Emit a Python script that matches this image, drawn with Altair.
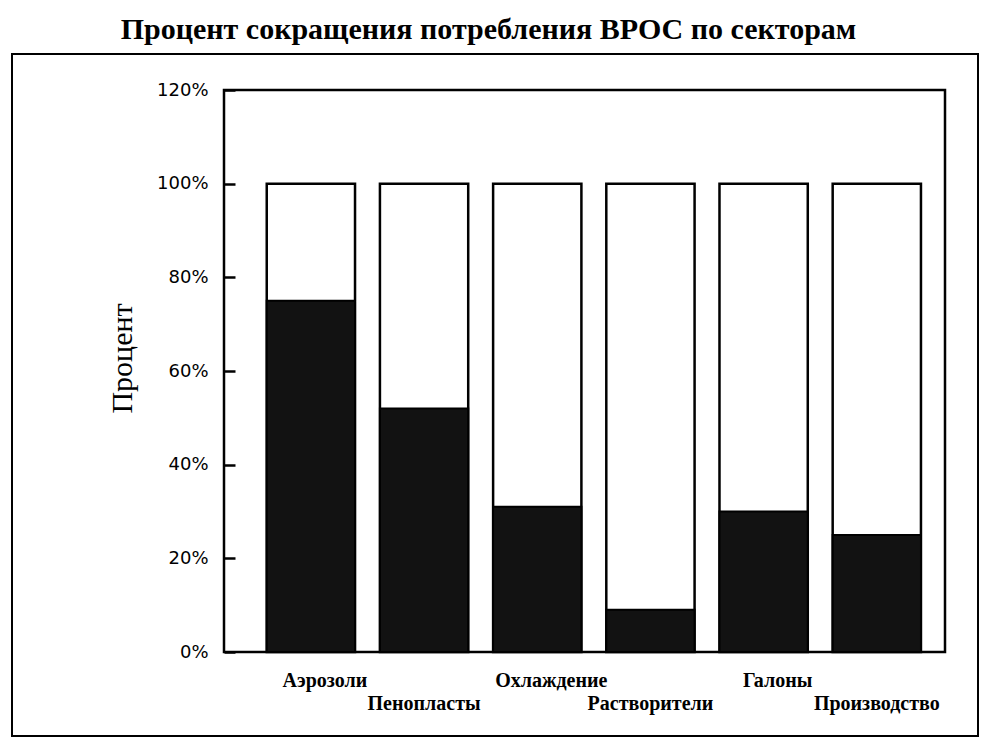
import altair as alt
import pandas as pd

categories = ["Аэрозоли", "Пенопласты", "Охлаждение", "Растворители", "Галоны", "Производство"]
reduction = [75, 52, 31, 9, 30, 25]
totals = [100, 100, 100, 100, 100, 100]
label_rows = [0, 1, 0, 1, 0, 1]
y_ticks = [0, 20, 40, 60, 80, 100, 120]

df = pd.DataFrame({"cat": categories, "reduction": reduction, "total": totals, "row": label_rows})

xscale = alt.Scale(domain=categories, paddingInner=0.22, paddingOuter=0.295, align=0.64)
yscale = alt.Scale(domain=[0, 120], nice=False)
# axis pulled 11px inside the frame so that its outward ticks point into the plot
yaxis = alt.Axis(values=y_ticks, labelExpr="datum.value + '%'", ticks=True, tickSize=11,
                 tickWidth=2.5, tickColor="black", domain=False, offset=-11,
                 grid=False, labelPadding=16, labelFont="DejaVu Sans", labelFontSize=18,
                 labelColor="black", titleFont="Liberation Serif", titleFontSize=30,
                 titleFontWeight="normal", titleColor="black", titleX=-113, titleY=268,
                 titleAngle=270, titleAlign="center", titleBaseline="middle")
xaxis = None

base = alt.Chart(df)

white = base.mark_bar(fill="white", stroke="black", strokeWidth=2.5).encode(
    x=alt.X("cat:N", sort=categories, scale=xscale, axis=xaxis),
    y=alt.Y("total:Q", scale=yscale, title="Процент", axis=yaxis),
)

black = base.mark_bar(fill="#121212", stroke="black", strokeWidth=2).encode(
    x=alt.X("cat:N", sort=categories, scale=xscale, axis=xaxis),
    y=alt.Y("reduction:Q", scale=yscale, title="Процент", axis=yaxis),
)

labels0 = base.transform_filter("datum.row == 0").mark_text(
    font="Liberation Serif", fontWeight="bold", fontSize=20, color="black", dx=14, baseline="middle"
).encode(
    x=alt.X("cat:N", sort=categories, scale=xscale, axis=xaxis),
    y=alt.value(591),
    text="cat:N",
)

labels1 = base.transform_filter("datum.row == 1").mark_text(
    font="Liberation Serif", fontWeight="bold", fontSize=20, color="black", dx=0, baseline="middle"
).encode(
    x=alt.X("cat:N", sort=categories, scale=xscale, axis=xaxis),
    y=alt.value(614),
    text="cat:N",
)

frame = alt.Chart(alt.Data(values=[{"f": 1}])).mark_rect(
    fill="transparent", stroke="black", strokeWidth=2
).encode(
    x=alt.value(-212), x2=alt.value(754), y=alt.value(-36), y2=alt.value(646)
)

chart = alt.layer(frame, white, black, labels0, labels1).properties(
    width=721,
    height=562,
    autosize=alt.AutoSizeParams(type="none"),
    padding={"left": 216, "top": 82, "right": 35, "bottom": 85},
    title=alt.TitleParams(
        "Процент сокращения потребления ВРОС по секторам",
        font="Liberation Serif", fontSize=30, fontWeight="bold", color="black",
        anchor="middle", frame="group", dx=-96, offset=8,
    ),
).configure(background="white").configure_view(stroke="black", strokeWidth=2.5)

chart.save("out.html", embed_options={"renderer": "svg", "actions": False})
